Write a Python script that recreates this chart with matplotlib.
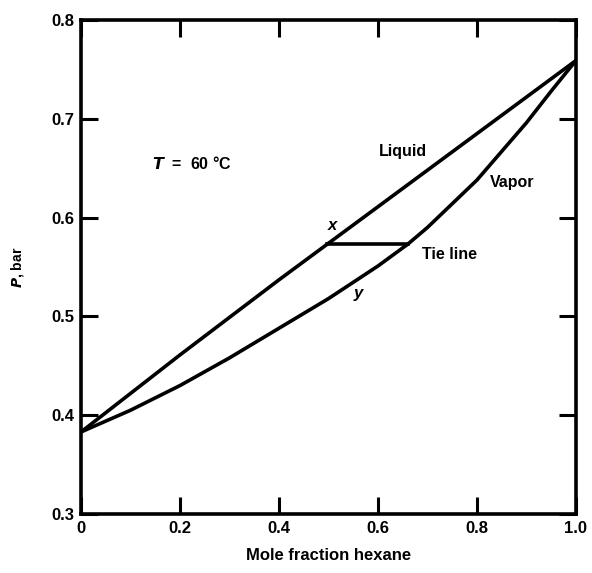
import numpy as np
import matplotlib
matplotlib.use('Agg')
import matplotlib.pyplot as plt

# values (P in bar vs mole fraction hexane)
x_liquid = [0.0, 0.1, 0.2, 0.3, 0.4, 0.5, 0.6, 0.7, 0.8, 0.9, 1.0]
p_liquid = [0.383, 0.422, 0.461, 0.499, 0.537, 0.574, 0.611, 0.648, 0.685, 0.722, 0.759]

y_vapor = [0.0, 0.05, 0.1, 0.2, 0.3, 0.4, 0.5, 0.6, 0.66, 0.7, 0.8, 0.9, 0.95, 1.0]
p_vapor = [0.383, 0.394, 0.405, 0.430, 0.458, 0.488, 0.518, 0.551, 0.573, 0.590,
           0.638, 0.696, 0.728, 0.759]

tie_x = [0.497, 0.66]
tie_p = [0.573, 0.573]

x_ticks = [0, 0.2, 0.4, 0.6, 0.8, 1.0]
x_ticklabels = ['0', '0.2', '0.4', '0.6', '0.8', '1.0']
y_ticks = [0.3, 0.4, 0.5, 0.6, 0.7, 0.8]
y_ticklabels = ['0.3', '0.4', '0.5', '0.6', '0.7', '0.8']

plt.rcParams['font.family'] = ['Liberation Sans', 'DejaVu Sans']
plt.rcParams['font.weight'] = 'bold'

fig = plt.figure(figsize=(5.92, 5.73), dpi=100)
ax = fig.add_axes([0.1368, 0.103, 0.836, 0.862])

lw = 2.6
ax.plot(x_liquid, p_liquid, color='black', lw=lw, solid_capstyle='round', solid_joinstyle='round')
ax.plot(y_vapor, p_vapor, color='black', lw=lw, solid_capstyle='round', solid_joinstyle='round')
ax.plot(tie_x, tie_p, color='black', lw=lw)

ax.set_xlim(0, 1.0)
ax.set_ylim(0.3, 0.8)
ax.set_xticks(x_ticks)
ax.set_xticklabels(x_ticklabels)
ax.set_yticks(y_ticks)
ax.set_yticklabels(y_ticklabels)
ax.tick_params(direction='in', length=12, width=2.2, top=True, right=True,
               labelsize=12, pad=5)
for s in ax.spines.values():
    s.set_linewidth(2.6)

fs = 11.5
ax.text(0.225, 0.655, r'$T$  =  60 °C', fontsize=fs, fontweight='bold', ha='center', va='center')
ax.text(0.65, 0.667, 'Liquid', fontsize=fs, fontweight='bold', ha='center', va='center')
ax.text(0.871, 0.636, 'Vapor', fontsize=fs, fontweight='bold', ha='center', va='center')
ax.text(0.745, 0.563, 'Tie line', fontsize=fs, fontweight='bold', ha='center', va='center')
ax.text(0.507, 0.592, 'x', fontsize=12, fontweight='bold', style='italic', ha='center', va='center')
ax.text(0.56, 0.523, 'y', fontsize=12, fontweight='bold', style='italic', ha='center', va='center')

ax.set_xlabel('Mole fraction hexane', fontsize=12, fontweight='bold', labelpad=9)
ax.set_ylabel(r'$P$, bar', fontsize=10, fontweight='bold', labelpad=18)

fig.savefig('out.png', dpi=100)
